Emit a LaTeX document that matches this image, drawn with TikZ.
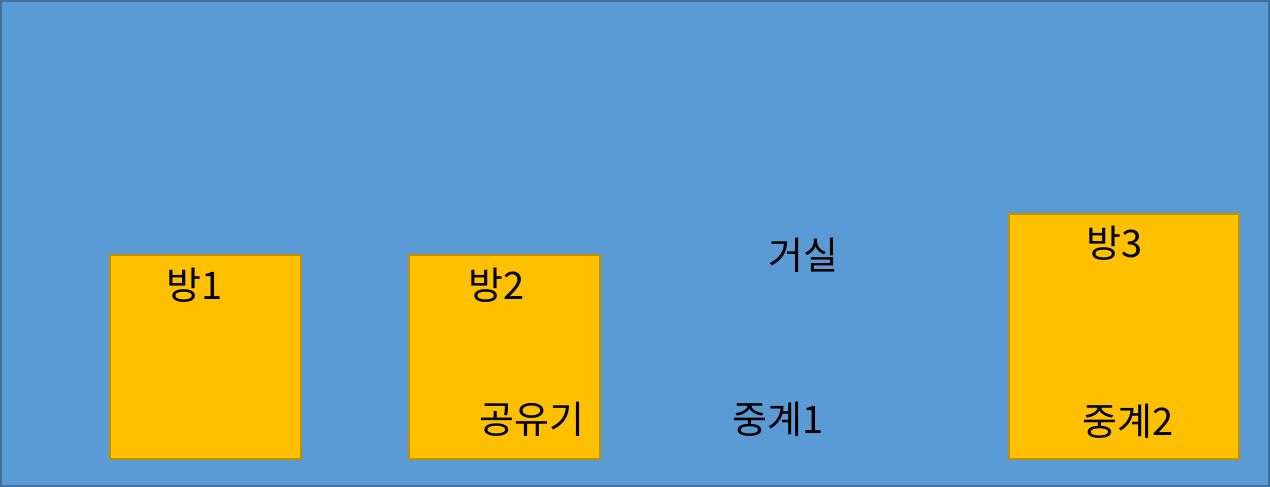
\documentclass[tikz,border=0pt]{standalone}
\usepackage{fontspec}
\newfontfamily\kr{Noto Sans CJK KR}
\definecolor{bgfill}{HTML}{5B9BD5}
\definecolor{bgline}{HTML}{41719C}
\definecolor{roomfill}{HTML}{FFC000}
\definecolor{roomline}{HTML}{BF9000}
\tikzset{
  room/.style={rectangle, fill=roomfill, draw=roomline, line width=2pt, inner sep=0pt},
  lbl/.style={inner sep=0pt, font=\kr\fontsize{38}{38}\selectfont, text=black},
}
\begin{document}
\begin{tikzpicture}[x=1pt,y=-1pt]
\useasboundingbox (0,0) rectangle (1270,487);
\node[rectangle, fill=bgfill, draw=bgline, line width=2pt, minimum width=1268pt, minimum height=485pt, inner sep=0pt] (house) at (635,243.5) {};
\node[room, minimum width=191pt, minimum height=204pt] (r1) at (205.5,357) {};
\node[room, minimum width=191pt, minimum height=204pt] (r2) at (504.5,357) {};
\node[room, minimum width=230pt, minimum height=245pt] (r3) at (1124,336.5) {};
\node[lbl] (t1) at (195,285) {방1};
\node[lbl] (t2) at (497,285) {방2};
\node[lbl] (t3) at (1115,243) {방3};
\node[lbl] (lr) at (803,255) {거실};
\node[lbl] (ap) at (532,419) {공유기};
\node[lbl] (rp1) at (778,419) {중계1};
\node[lbl] (rp2) at (1128,421) {중계2};
\end{tikzpicture}
\end{document}
